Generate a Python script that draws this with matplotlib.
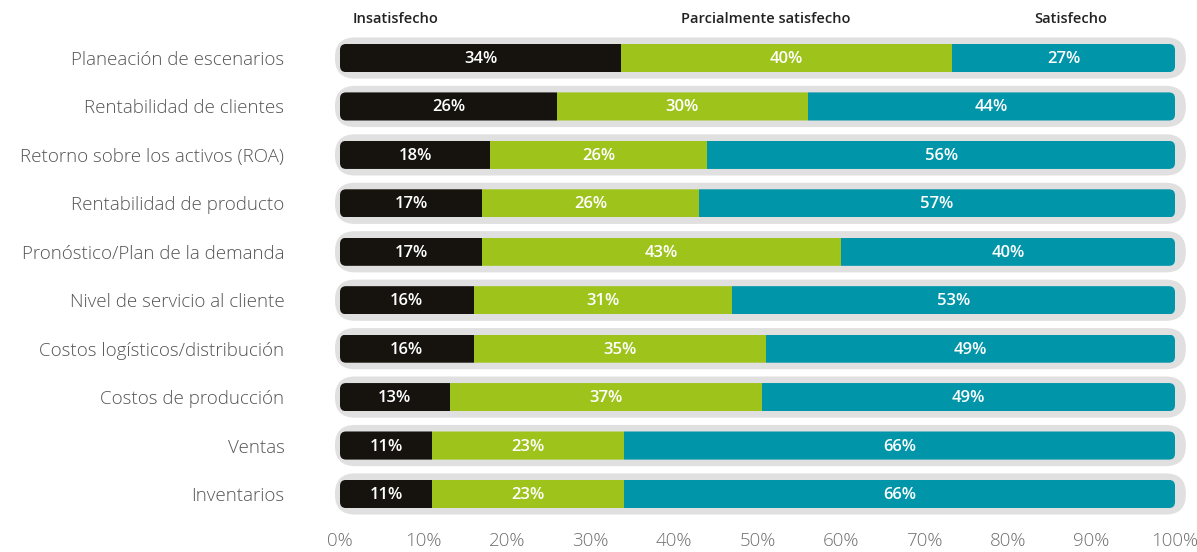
import numpy as np
import matplotlib.pyplot as plt
from matplotlib.patches import FancyBboxPatch

plt.rcParams['font.family'] = ['Open Sans', 'DejaVu Sans']

categorias = ['Planeación de escenarios', 'Rentabilidad de clientes',
              'Retorno sobre los activos (ROA)', 'Rentabilidad de producto',
              'Pronóstico/Plan de la demanda', 'Nivel de servicio al cliente',
              'Costos logísticos/distribución', 'Costos de producción',
              'Ventas', 'Inventarios']
insatisfecho = np.array([34, 26, 18, 17, 17, 16, 16, 13, 11, 11])
parcial = np.array([40, 30, 26, 26, 43, 31, 35, 37, 23, 23])
satisfecho = np.array([27, 44, 56, 57, 40, 53, 49, 49, 66, 66])
series = ['Insatisfecho', 'Parcialmente satisfecho', 'Satisfecho']
colores = ['#16130f', '#9ec41c', '#0095a9']

# los porcentajes redondeados no siempre suman 100
total = insatisfecho + parcial + satisfecho
datos = [v / total * 100 for v in (insatisfecho, parcial, satisfecho)]
etiquetas = [insatisfecho, parcial, satisfecho]

fig = plt.figure(figsize=(11.97, 5.52), dpi=100)
ax = fig.add_axes([340 / 1197, 33.8 / 552, 835 / 1197, 484.4 / 552])
ax.set_xlim(0, 100)
ax.set_ylim(9.5, -0.5)

px_x = 100 / 835   # unidades x por pixel
px_y = 1 / 48.4    # unidades y por pixel
aspecto = px_y / px_x

y = np.arange(len(categorias))
for i in y:
    fondo = FancyBboxPatch((-0.6, i - 0.425), 101.9, 0.85,
                           boxstyle='round,pad=0,rounding_size=%f' % (20 * px_x),
                           mutation_aspect=aspecto, fc='#e1e0e1', ec='none',
                           zorder=1, clip_on=False)
    ax.add_patch(fondo)
    clip = FancyBboxPatch((0, i - 0.29), 100, 0.58,
                          boxstyle='round,pad=0,rounding_size=%f' % (6 * px_x),
                          mutation_aspect=aspecto, transform=ax.transData)
    izq = 0
    for k in range(3):
        w = datos[k][i]
        b = ax.barh(i, w, left=izq, height=0.58, color=colores[k], zorder=2)
        for r in b:
            r.set_clip_path(clip)
        ax.text(izq + w / 2, i + 0.02, '%d%%' % etiquetas[k][i], color='white',
                fontsize=12, fontweight='semibold', fontstretch='normal',
                ha='center', va='center', zorder=3)
        izq += w

for x, s in zip([6.6, 51, 87.5], series):
    ax.text(x, -0.8, s, fontsize=10.5, fontweight='semibold', fontstretch='normal',
            color='#222222', ha='center', va='center', clip_on=False)

ax.set_yticks(y)
ax.set_yticklabels(categorias, fontsize=13.5, color='#555555', fontweight='light')
ax.set_xticks(np.arange(0, 101, 10))
ax.set_xticklabels(['%d%%' % t for t in range(0, 101, 10)], fontsize=13.5,
                   color='#707070', fontweight='light')
ax.tick_params(axis='y', length=0, pad=40)
ax.tick_params(axis='x', length=0, pad=10)
for s in ax.spines.values():
    s.set_visible(False)

fig.savefig('out.png', dpi=100)
